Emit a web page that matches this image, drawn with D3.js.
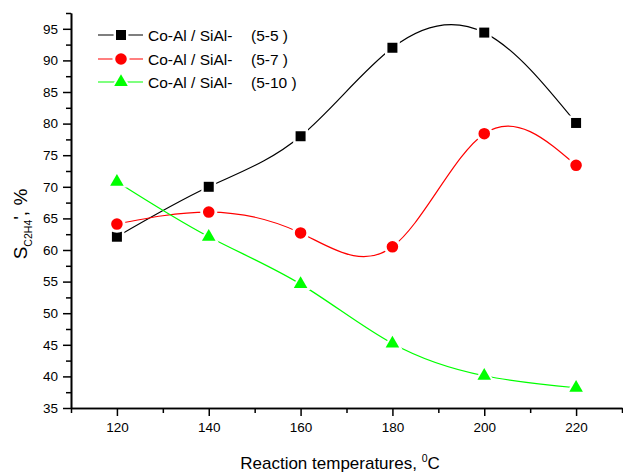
<!DOCTYPE html>
<html>
<head>
<meta charset="utf-8">
<script src="https://cdn.jsdelivr.net/npm/d3@7"></script>
<style>
  body { margin: 0; background: #fff; }
  text { font-family: Arial, "Liberation Sans", sans-serif; fill: #000; }
</style>
</head>
<body>
<svg id="chart"></svg>
<script>
// data
const temps = [120, 140, 160, 180, 200, 220];
const s55 = [62.1, 70.0, 78.0, 92.0, 94.4, 80.1];
const s57 = [64.1, 66.0, 62.7, 60.5, 78.4, 73.4];
const s510 = [70.8, 62.1, 54.6, 45.2, 40.1, 38.2];
const seriesNames = ["Co-Al / SiAl-", "Co-Al / SiAl-", "Co-Al / SiAl-"];
const seriesTags = ["(5-5 )", "(5-7 )", "(5-10 )"];
const xTicks = [120, 140, 160, 180, 200, 220];
const yTicks = [35, 40, 45, 50, 55, 60, 65, 70, 75, 80, 85, 90, 95];

const width = 623, height = 472;
const margin = { top: 13, left: 71, right: 1, bottom: 64 };

const svg = d3.select("#chart")
  .attr("width", width)
  .attr("height", height);

const xScale = d3.scaleLinear()
  .domain([110, 230])
  .range([margin.left, width - margin.right]);

const yScale = d3.scaleLinear()
  .domain([35, 97.5])
  .range([height - margin.bottom, margin.top]);

// axes
const xAxis = d3.axisBottom(xScale)
  .tickValues(xTicks)
  .tickSize(8)
  .tickSizeOuter(0)
  .tickPadding(6);

const xMinor = d3.axisBottom(xScale)
  .tickValues(d3.range(110, 231, 10).filter(d => xTicks.indexOf(d) < 0))
  .tickSize(5)
  .tickSizeOuter(0)
  .tickFormat("");

const yAxis = d3.axisLeft(yScale)
  .tickValues(yTicks)
  .tickSize(8)
  .tickSizeOuter(0)
  .tickPadding(5);

const yMinor = d3.axisLeft(yScale)
  .tickValues(d3.range(37.5, 98, 5))
  .tickSize(5)
  .tickSizeOuter(0)
  .tickFormat("");

function styleAxis(g) {
  g.select(".domain").attr("stroke", "#000").attr("stroke-width", 1.6);
  g.selectAll(".tick line").attr("stroke", "#000").attr("stroke-width", 1.5);
  g.selectAll(".tick text")
    .style("font-size", "13.5px")
    .style("font-family", "Arial, 'Liberation Sans', sans-serif")
    .attr("fill", "#000");
}

svg.append("g")
  .attr("transform", `translate(0,${height - margin.bottom})`)
  .call(xMinor).call(styleAxis);
svg.append("g")
  .attr("transform", `translate(0,${height - margin.bottom})`)
  .call(xAxis).call(styleAxis);

svg.append("g")
  .attr("transform", `translate(${margin.left},0)`)
  .call(yMinor).call(styleAxis);
svg.append("g")
  .attr("transform", `translate(${margin.left},0)`)
  .call(yAxis).call(styleAxis);

// axis titles
const xTitle = svg.append("text")
  .attr("x", 340)
  .attr("y", 469)
  .attr("text-anchor", "middle")
  .style("font-size", "17px");
xTitle.append("tspan").text("Reaction temperatures, ");
xTitle.append("tspan").attr("dy", -7).style("font-size", "10.5px").text("0");
xTitle.append("tspan").attr("dy", 7).text("C");

const yTitle = svg.append("text")
  .attr("transform", "translate(27,224) rotate(-90)")
  .attr("text-anchor", "middle")
  .style("font-size", "19px");
yTitle.append("tspan").text("S");
yTitle.append("tspan").attr("dy", 5).style("font-size", "10.5px").text("C2H4");
yTitle.append("tspan").attr("dy", -5).text("', %");

// series
const series = [
  { vals: s55, color: "#000000", shape: d3.symbolSquare, size: 100 },
  { vals: s57, color: "#ff0000", shape: d3.symbolCircle, size: 105 },
  { vals: s510, color: "#00ff00", shape: d3.symbolTriangle, size: 80 }
];

const line = d3.line()
  .x(d => xScale(d[0]))
  .y(d => yScale(d[1]))
  .curve(d3.curveNatural);

series.forEach(s => {
  const pts = temps.map((t, i) => [t, s.vals[i]]);

  svg.append("path")
    .datum(pts)
    .attr("fill", "none")
    .attr("stroke", s.color)
    .attr("stroke-width", 1.2)
    .attr("d", line);

  // white halo gives the gap around each marker
  svg.selectAll(null)
    .data(pts)
    .join("path")
    .attr("transform", d => `translate(${xScale(d[0])},${yScale(d[1])})`)
    .attr("d", d3.symbol().type(s.shape).size(s.size))
    .attr("fill", s.color)
    .each(function () {
      const el = d3.select(this);
      svg.insert("path", () => this)
        .attr("transform", el.attr("transform"))
        .attr("d", d3.symbol().type(s.shape).size(s.size * 2.2))
        .attr("fill", "#fff");
    });
});

// legend
const legendY = [35, 59, 82];
series.forEach((s, i) => {
  const g = svg.append("g").attr("transform", `translate(0,${legendY[i]})`);
  g.append("line")
    .attr("x1", 98).attr("x2", 143)
    .attr("stroke", s.color).attr("stroke-width", 1.2);
  g.append("path")
    .attr("transform", "translate(121,0)")
    .attr("d", d3.symbol().type(s.shape).size(s.size * 2.2))
    .attr("fill", "#fff");
  g.append("path")
    .attr("transform", "translate(121,0)")
    .attr("d", d3.symbol().type(s.shape).size(s.size))
    .attr("fill", s.color);
  g.append("text")
    .attr("x", 148).attr("y", 5.5)
    .style("font-size", "15.5px")
    .text(seriesNames[i]);
  g.append("text")
    .attr("x", 251).attr("y", 5.5)
    .style("font-size", "15.5px")
    .text(seriesTags[i]);
});
</script>
</body>
</html>
